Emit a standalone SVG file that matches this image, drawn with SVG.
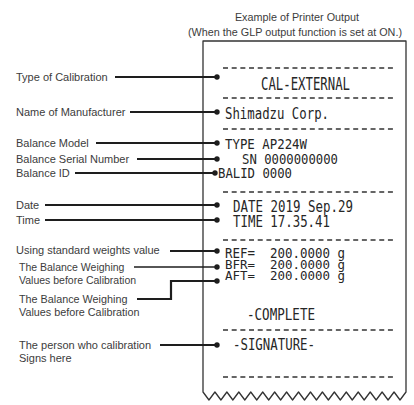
<svg xmlns="http://www.w3.org/2000/svg" width="414" height="405" viewBox="0 0 414 405">
<style>
.lbl{font-family:"Liberation Sans",Arial,sans-serif;font-size:11px;fill:#3c3c3c}
.ttl{font-family:"Liberation Sans",Arial,sans-serif;font-size:10.8px;fill:#3c3c3c;text-anchor:middle}
.pr{font-family:"DejaVu Sans Mono","Liberation Mono",monospace;font-size:15px;fill:#262626}
.dash{stroke:#333;stroke-width:1.6;stroke-dasharray:5 3.68;fill:none}
.con{stroke:#1e1e1e;stroke-width:2.2;fill:none}
.dot{fill:#1e1e1e}
</style>
<rect width="414" height="405" fill="#fff"/>
<g id="title">
<text class="ttl" x="297" y="21">Example of Printer Output</text>
<text class="ttl" x="295" y="36">(When the GLP output function is set at ON.)</text>
</g>
<g id="receipt">
<path d="M406,392 L406,41 L203,41 L203,392 L208.97,400 L214.94,392 L220.91,400 L226.88,392 L232.85,400 L238.82,392 L244.79,400 L250.76,392 L256.74,400 L262.71,392 L268.68,400 L274.65,392 L280.62,400 L286.59,392 L292.56,400 L298.53,392 L304.5,400 L310.47,392 L316.44,400 L322.41,392 L328.38,400 L334.35,392 L340.32,400 L346.29,392 L352.26,400 L358.24,392 L364.21,400 L370.18,392 L376.15,400 L382.12,392 L388.09,400 L394.06,392 L400.03,400 L406,392 Z" fill="#fff" stroke="#333" stroke-width="1.3" stroke-linejoin="round"/>
<line class="dash" x1="223" y1="68" x2="393" y2="68"/>
<line class="dash" x1="223" y1="98" x2="393" y2="98"/>
<line class="dash" x1="223" y1="129" x2="393" y2="129"/>
<line class="dash" x1="223" y1="192" x2="393" y2="192"/>
<line class="dash" x1="223" y1="240" x2="393" y2="240"/>
<line class="dash" x1="223" y1="330" x2="393" y2="330"/>
<line class="dash" x1="223" y1="377" x2="393" y2="377"/>
<text class="pr" x="261" y="90" style="font-size:17.5px" textLength="89" lengthAdjust="spacingAndGlyphs">CAL-EXTERNAL</text>
<text class="pr" x="225" y="119" textLength="104" lengthAdjust="spacingAndGlyphs">Shimadzu Corp.</text>
<text class="pr" x="225" y="149" style="font-size:14px" textLength="82" lengthAdjust="spacingAndGlyphs">TYPE AP224W</text>
<text class="pr" x="242" y="163.5" style="font-size:14px" textLength="96" lengthAdjust="spacingAndGlyphs">SN 0000000000</text>
<text class="pr" x="218" y="177.5" style="font-size:14px" textLength="74" lengthAdjust="spacingAndGlyphs">BALID 0000</text>
<text class="pr" x="233" y="212" textLength="120" lengthAdjust="spacingAndGlyphs">DATE 2019 Sep.29</text>
<text class="pr" x="233" y="227" textLength="97" lengthAdjust="spacingAndGlyphs">TIME 17.35.41</text>
<text class="pr" x="225" y="258" xml:space="preserve" style="font-size:13.5px" textLength="120" lengthAdjust="spacingAndGlyphs">REF=  200.0000 g</text>
<text class="pr" x="225" y="269" xml:space="preserve" style="font-size:12.5px" textLength="120" lengthAdjust="spacingAndGlyphs">BFR=  200.0000 g</text>
<text class="pr" x="225" y="280" xml:space="preserve" style="font-size:12.5px" textLength="120" lengthAdjust="spacingAndGlyphs">AFT=  200.0000 g</text>
<text class="pr" x="247" y="320" textLength="68" lengthAdjust="spacingAndGlyphs">-COMPLETE</text>
<text class="pr" x="233" y="350" textLength="82" lengthAdjust="spacingAndGlyphs">-SIGNATURE-</text>
</g>
<g id="label-type"><text class="lbl" x="16" y="81">Type of Calibration</text></g>
<g id="label-manufacturer"><text class="lbl" x="16" y="116">Name of Manufacturer</text></g>
<g id="label-model"><text class="lbl" x="16" y="147">Balance Model</text></g>
<g id="label-serial"><text class="lbl" x="16" y="163">Balance Serial Number</text></g>
<g id="label-id"><text class="lbl" x="16" y="177">Balance ID</text></g>
<g id="label-date"><text class="lbl" x="16" y="209">Date</text></g>
<g id="label-time"><text class="lbl" x="16" y="224">Time</text></g>
<g id="label-ref"><text class="lbl" x="16" y="254">Using standard weights value</text></g>
<g id="label-bfr"><text class="lbl" x="19" y="271" style="font-size:10.5px">The Balance Weighing</text><text class="lbl" x="19" y="284" style="font-size:10.5px">Values before Calibration</text></g>
<g id="label-aft"><text class="lbl" x="19" y="303" style="font-size:10.8px">The Balance Weighing</text><text class="lbl" x="19" y="316" style="font-size:10.8px">Values before Calibration</text></g>
<g id="label-sign"><text class="lbl" x="19" y="349">The person who calibration</text><text class="lbl" x="19" y="362">Signs here</text></g>
<g id="connectors">
<line class="con" x1="115" y1="77" x2="217" y2="77"/><circle class="dot" cx="217" cy="77" r="2.7"/>
<line class="con" x1="130" y1="112" x2="217" y2="112"/><circle class="dot" cx="217" cy="112" r="2.7"/>
<line class="con" x1="96" y1="143" x2="217" y2="143"/><circle class="dot" cx="217" cy="143" r="2.7"/>
<line class="con" x1="137" y1="159" x2="217" y2="159"/><circle class="dot" cx="217" cy="159" r="2.7"/>
<line class="con" x1="75" y1="173" x2="215" y2="173"/><circle class="dot" cx="215" cy="173" r="2.7"/>
<line class="con" x1="45" y1="205" x2="217" y2="205"/><circle class="dot" cx="217" cy="205" r="2.7"/>
<line class="con" x1="45" y1="220" x2="217" y2="220"/><circle class="dot" cx="217" cy="220" r="2.7"/>
<line class="con" x1="170" y1="251" x2="217" y2="251"/><circle class="dot" cx="217" cy="251" r="2.7"/>
<line class="con" x1="134" y1="267" x2="217" y2="267" style="stroke-width:1.6"/><circle class="dot" cx="217" cy="267" r="2.7"/>
<polyline class="con" points="137,299 171,299 171,281 217,281"/><circle class="dot" cx="217" cy="281" r="2.7"/>
<line class="con" x1="160" y1="345" x2="217" y2="345"/><circle class="dot" cx="217" cy="345" r="2.7"/>
</g>
</svg>
